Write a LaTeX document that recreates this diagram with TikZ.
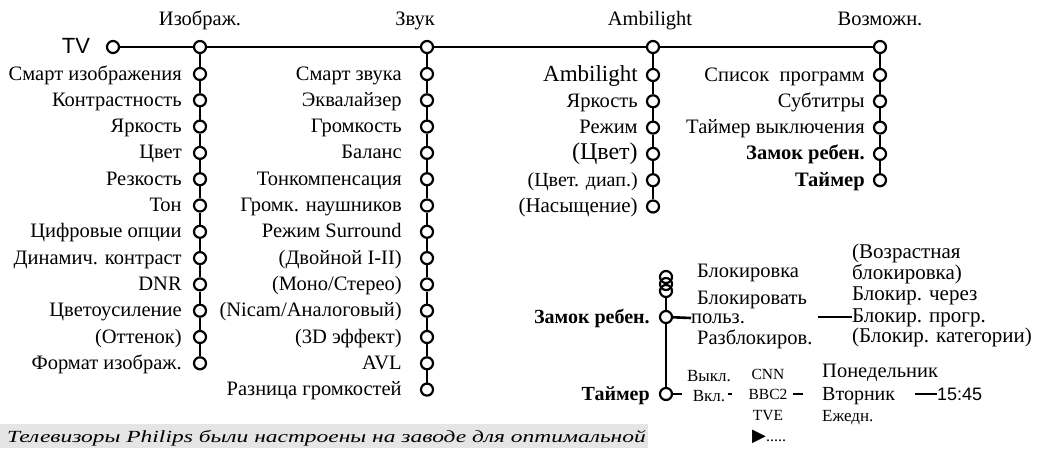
\documentclass[tikz,border=0pt]{standalone}
\usepackage{fontspec}
\usepackage{graphicx}
\setmainfont{Liberation Serif}
\newfontfamily\sansf{Liberation Sans}
\newfontfamily\symf{DejaVu Sans}
\newcommand{\fs}[1]{\fontsize{#1}{#1}\selectfont}
\begin{document}
\begin{tikzpicture}[x=1pt,y=-1pt,
  conn/.style={line width=2.6pt},
  dot/.style={circle,draw,fill=white,inner sep=0pt,minimum size=12pt,line width=2.2pt},
  ring/.style={circle,draw,inner sep=0pt,minimum size=12pt,line width=2.2pt},
  lbl/.style={font=\fs{20.5},inner sep=0pt,anchor=base east},
  hdr/.style={font=\fs{20.5},inner sep=0pt,text height=14pt,text depth=4pt},
  txt/.style={font=\fs{20.5},inner sep=0pt,anchor=west,text height=13pt,text depth=3pt},
  sml/.style={font=\fs{17},inner sep=0pt,text height=11pt,text depth=3pt}]
\useasboundingbox (0,0) rectangle (1040,448);
% bottom band
\fill[black!10] (0,424) rectangle (648,448);
\node[font=\itshape\fs{17},anchor=base west,inner sep=0pt] (note) at (7,442) {\scalebox{1.38}[1]{Телевизоры Philips были настроены на заводе для оптимальной}};
% header circles
\node[dot] (h0) at (113,47) {};
\node[dot] (h1) at (200,47) {};
\node[dot] (h2) at (427,47) {};
\node[dot] (h3) at (653,47) {};
\node[dot] (h4) at (880,47) {};
\draw[conn] (h0) -- (h1) -- (h2) -- (h3) -- (h4);
\node[font=\sansf\fs{22},inner sep=0pt] (tv) at (76,46) {TV};
\node[hdr] (t1) at (200,20) {Изображ.};
\node[hdr] (t2) at (415,20) {Звук};
\node[hdr] (t3) at (650,20) {Ambilight};
\node[hdr] (t4) at (880,20) {Возможн.};
% column 1
\foreach \t [count=\i, remember=\i as \j (initially 0)] in {Смарт изображения,Контрастность,Яркость,Цвет,Резкость,Тон,Цифровые опции,Динамич. контраст,DNR,Цветоусиление,(Оттенок),Формат изображ.}{
  \node[dot] (a\i) at (200,{74+26.3*(\i-1)}) {};
  \ifnum\j=0 \draw[conn] (h1) -- (a\i); \else \draw[conn] (a\j) -- (a\i); \fi
  \node[lbl] (la\i) at ([xshift=-11pt,yshift=-6pt]a\i.west) {\t};
}
% column 2
\foreach \t [count=\i, remember=\i as \j (initially 0)] in {Смарт звука,Эквалайзер,Громкость,Баланс,Тонкомпенсация,Громк. наушников,Режим Surround,(Двойной I-II),(Моно/Стерео),(Nicam/Аналоговый),(3D эффект),AVL,Разница громкостей}{
  \node[dot] (b\i) at (427,{74+26.3*(\i-1)}) {};
  \ifnum\j=0 \draw[conn] (h2) -- (b\i); \else \draw[conn] (b\j) -- (b\i); \fi
  \node[lbl] (lb\i) at ([xshift=-18pt,yshift=-6pt]b\i.west) {\t};
}
% column 3
\foreach \t/\s [count=\i, remember=\i as \j (initially 0)] in {Ambilight/23,Яркость/20.5,Режим/20.5,(Цвет)/24,(Цвет. диап.)/20,(Насыщение)/21}{
  \node[dot] (c\i) at (653,{75+26.3*(\i-1)}) {};
  \ifnum\j=0 \draw[conn] (h3) -- (c\i); \else \draw[conn] (c\j) -- (c\i); \fi
  \node[lbl,font=\fs{\s}] (lc\i) at ([xshift=-8pt,yshift=-6pt]c\i.west) {\t};
}
% column 4
\foreach \t [count=\i, remember=\i as \j (initially 0)] in {Список\ \ программ,Субтитры,Таймер выключения,\textbf{Замок ребен.},\textbf{Таймер}}{
  \node[dot] (d\i) at (880,{75+26.3*(\i-1)}) {};
  \ifnum\j=0 \draw[conn] (h4) -- (d\i); \else \draw[conn] (d\j) -- (d\i); \fi
  \node[lbl] (ld\i) at ([xshift=-8pt,yshift=-6pt]d\i.west) {\t};
}
% child lock sub-diagram
\node[ring] (k1) at (666,277) {};
\node[ring] (k2) at (666,284) {};
\node[ring] (k3) at (666,291) {};
\node[dot] (lk) at (666,317) {};
\node[dot] (tm) at (666,394) {};
\draw[conn] (k3) -- (lk) -- (tm);
\node[lbl,font=\bfseries\fs{20}] (llk) at ([xshift=-9pt,yshift=-6pt]lk.west) {Замок ребен.};
\node[lbl,font=\bfseries\fs{20}] (ltm) at ([xshift=-9pt,yshift=-6pt]tm.west) {Таймер};
\node[txt] (bl1) at (697,272) {Блокировка};
\node[txt] (bl2) at (697,299) {Блокировать};
\node[txt] (bl3) at (691,318) {польз.};
\node[txt] (bl4) at (697,339) {Разблокиров.};
\draw[conn] (lk) -- (bl3.west);
\node[txt,font=\fs{21}] (r1) at (852,253) {(Возрастная};
\node[txt,font=\fs{21}] (r2) at (852,274) {блокировка)};
\node[txt,font=\fs{21}] (r3) at (852,295) {Блокир. через};
\node[txt,font=\fs{21}] (r4) at (852,317) {Блокир. прогр.};
\node[txt,font=\fs{21}] (r5) at (852,337) {(Блокир. категории)};
\coordinate (rs) at (818,317);
\draw[conn] (rs) -- (r4.west);
% timer row
\coordinate (te) at (682,394);
\draw[conn] (tm) -- (te);
\node[sml] (off) at (709,377) {Выкл.};
\node[sml] (on) at (709,397) {Вкл.};
\coordinate (s1a) at (728,394); \coordinate (s1b) at (732,394);
\draw[conn] (s1a) -- (s1b);
\node[sml,font=\fs{15.5}] (cnn) at (768,375) {CNN};
\node[sml,font=\fs{15.5}] (bbc) at (768,395) {BBC2};
\node[sml,font=\fs{15.5}] (tve) at (768,416) {TVE};
\node[sml,anchor=west,font=\fs{16}] (more) at (752,437) {{\symf\fs{18}▶}.....};
\coordinate (s2a) at (793,394); \coordinate (s2b) at (803,394);
\draw[conn] (s2a) -- (s2b);
\node[txt,font=\fs{20.5}] (mon) at (822,372) {Понедельник};
\node[txt,font=\fs{20}] (tue) at (822,395) {Вторник};
\node[txt,font=\fs{17}] (day) at (822,416) {Ежедн.};
\coordinate (s3a) at (915,394);
\node[anchor=west,inner sep=0pt,font=\sansf\fs{18}] (time) at (937,394) {15:45};
\draw[conn] (s3a) -- (time.west);
\end{tikzpicture}
\end{document}
